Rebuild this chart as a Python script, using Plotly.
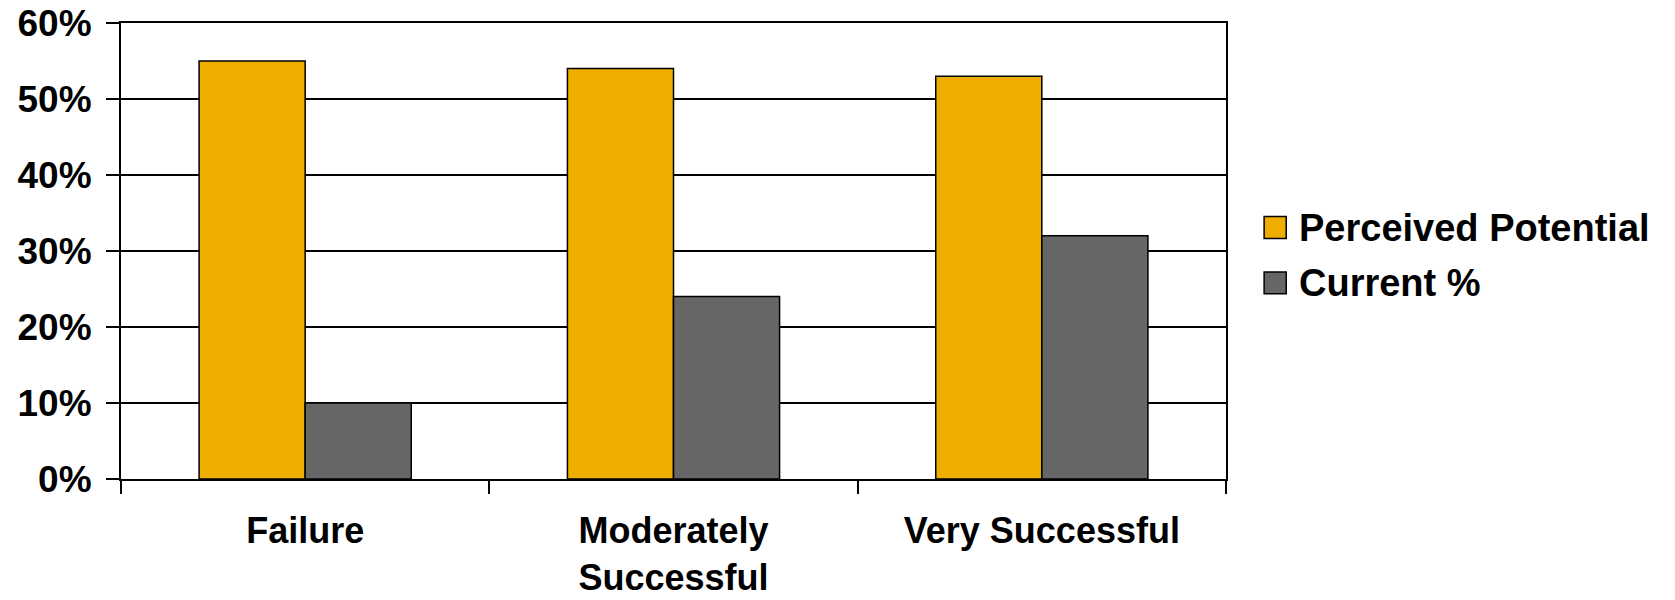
import plotly.graph_objects as go

# Outcome categories and the two series (percent of respondents)
categories = ["Failure", "Moderately<br>Successful", "Very Successful"]
series_names = ["Perceived Potential", "Current %"]
perceived_potential = [55, 54, 53]
current_pct = [10, 24, 32]
y_ticks = [0, 10, 20, 30, 40, 50, 60]

colors = ["#EFAD00", "#666666"]
font_family = "Arial, Liberation Sans, sans-serif"
bold_font = dict(family=font_family, size=36, color="black", weight="bold")
legend_font = dict(family=font_family, size=38, color="black", weight="bold")

fig = go.Figure()
for name, vals, col in zip(series_names, [perceived_potential, current_pct], colors):
    fig.add_trace(go.Bar(
        x=categories, y=vals, name=name,
        marker=dict(color=col, line=dict(color="black", width=1.5)),
        showlegend=False,
    ))

# Legend drawn as swatches + labels to the right of the plot area
legend_y = [0.5515, 0.43]
for name, col, yy in zip(series_names, colors, legend_y):
    fig.add_shape(type="rect", xref="paper", yref="paper",
                  x0=1.0345, x1=1.0545, y0=yy - 0.024, y1=yy + 0.024,
                  fillcolor=col, line=dict(color="black", width=1.5))
    fig.add_annotation(xref="paper", yref="paper", x=1.064, y=yy,
                       text=name, showarrow=False, xanchor="left", yanchor="middle",
                       font=legend_font)

fig.update_layout(
    template="none",
    width=1675, height=600,
    margin=dict(l=121, r=449, t=23, b=121),
    paper_bgcolor="white", plot_bgcolor="white",
    barmode="group", bargap=0.424, bargroupgap=0,
    font=bold_font,
)
fig.update_xaxes(
    automargin=False, showgrid=False,
    showline=True, linecolor="black", linewidth=2, mirror=True,
    ticks="outside", tickson="boundaries", ticklen=13, tickwidth=2, tickcolor="black",
    ticklabelstandoff=19,
    tickfont=bold_font,
)
fig.update_yaxes(
    automargin=False,
    range=[0, 60], tickvals=y_ticks, ticktext=[f"{v}%" for v in y_ticks],
    showline=True, linecolor="black", linewidth=2, mirror=True,
    showgrid=True, gridcolor="black", gridwidth=1.5,
    ticks="outside", ticklen=13, tickwidth=2, tickcolor="black",
    ticklabelstandoff=7, zeroline=False,
    tickfont=dict(family=font_family, size=37, color="black", weight="bold"),
)

fig.write_html("out.html")
